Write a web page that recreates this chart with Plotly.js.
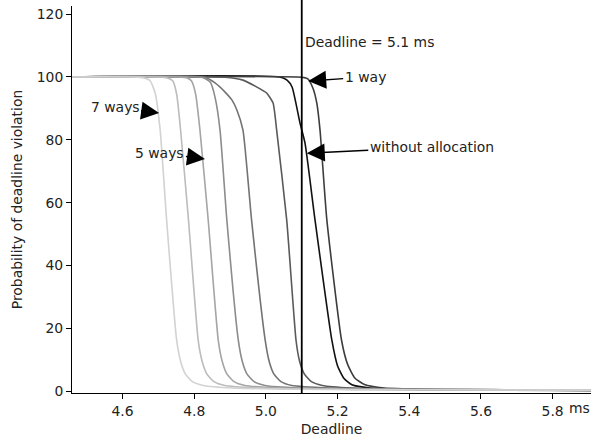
<!DOCTYPE html>
<html>
<head>
<meta charset="utf-8">
<script src="https://cdn.plot.ly/plotly-3.0.1.min.js"></script>
<style>html,body{margin:0;padding:0;background:#fff;}#chart{width:595px;height:437px;}</style>
</head>
<body>
<div id="chart"></div>
<script>
// Deadline (ms) / probability of deadline violation (%) for each configuration
const ways7X = [4.45, 4.655, 4.677, 4.691, 4.705, 4.723, 4.751, 4.762, 4.775, 4.795, 4.825, 4.908, 5.2, 5.95];
const ways7Y = [100, 99.8, 98.8, 94.9, 83.1, 54.5, 16.2, 9.5, 5.5, 3.0, 1.8, 1.0, 0.5, 0.3];
const ways6X = [4.45, 4.722, 4.740, 4.751, 4.762, 4.784, 4.811, 4.822, 4.835, 4.855, 4.885, 4.984, 5.3, 5.95];
const ways6Y = [100, 99.8, 98.8, 94.5, 83.1, 54.5, 16.2, 9.5, 5.5, 3.0, 1.8, 1.0, 0.5, 0.3];
const ways5X = [4.45, 4.778, 4.792, 4.804, 4.816, 4.839, 4.867, 4.878, 4.891, 4.911, 4.941, 5.039, 5.3, 5.95];
const ways5Y = [100, 99.8, 98.8, 94.5, 83.1, 54.5, 16.2, 9.5, 5.5, 3.0, 1.8, 1.0, 0.5, 0.3];
const ways4X = [4.45, 4.825, 4.845, 4.858, 4.872, 4.891, 4.923, 4.934, 4.947, 4.967, 4.997, 5.095, 5.4, 5.95];
const ways4Y = [100, 99.8, 98.3, 93.6, 83.1, 54.5, 16.2, 9.5, 5.5, 3.0, 1.8, 1.0, 0.5, 0.3];
const ways3X = [4.45, 4.830, 4.858, 4.886, 4.905, 4.919, 4.936, 4.960, 4.998, 5.009, 5.022, 5.042, 5.072, 5.179, 5.4, 5.95];
const ways3Y = [100, 99.9, 98.1, 95.2, 92.7, 89.5, 83.1, 54.5, 16.2, 9.5, 5.5, 3.0, 1.8, 1.0, 0.5, 0.3];
const ways2X = [4.45, 4.886, 4.936, 4.970, 5.002, 5.020, 5.030, 5.058, 5.084, 5.094, 5.107, 5.127, 5.157, 5.24, 5.5, 5.95];
const ways2Y = [100, 99.9, 99.0, 97.1, 94.9, 91.7, 83.1, 54.5, 16.2, 9.5, 5.5, 3.0, 1.8, 1.0, 0.5, 0.3];
const noAllocX = [4.45, 5.039, 5.059, 5.073, 5.095, 5.109, 5.137, 5.184, 5.200, 5.218, 5.240, 5.29, 5.5, 5.95];
const noAllocY = [100, 100, 99.0, 96.8, 85.4, 79.0, 54.5, 16.2, 8.0, 4.0, 2.0, 1.0, 0.4, 0.2];
const way1X = [4.45, 5.10, 5.117, 5.131, 5.142, 5.151, 5.170, 5.211, 5.228, 5.248, 5.275, 5.33, 5.5, 5.95];
const way1Y = [100, 99.9, 99.4, 96.5, 91.7, 83.1, 54.5, 16.2, 8.5, 4.2, 2.1, 1.0, 0.5, 0.2];

const deadline = 5.1;
const xTicks = [4.6, 4.8, 5.0, 5.2, 5.4, 5.6, 5.8];
const xTickText = ['4.6', '4.8', '5.0', '5.2', '5.4', '5.6', '5.8'];
const yTicks = [0, 20, 40, 60, 80, 100, 120];

const series = [
  {name: 'without allocation', x: noAllocX, y: noAllocY, color: '#111111'},
  {name: '1 way', x: way1X, y: way1Y, color: '#3d3d3d'},
  {name: '2 ways', x: ways2X, y: ways2Y, color: '#5a5a5a'},
  {name: '3 ways', x: ways3X, y: ways3Y, color: '#737373'},
  {name: '4 ways', x: ways4X, y: ways4Y, color: '#8c8c8c'},
  {name: '5 ways', x: ways5X, y: ways5Y, color: '#a5a5a5'},
  {name: '6 ways', x: ways6X, y: ways6Y, color: '#bcbcbc'},
  {name: '7 ways', x: ways7X, y: ways7Y, color: '#d2d2d2'}
];

const traces = series.map(s => ({
  type: 'scatter', mode: 'lines', name: s.name, x: s.x, y: s.y,
  line: {color: s.color, width: 1.6, shape: 'spline', smoothing: 0.5},
  hoverinfo: 'skip'
}));

const font = {family: 'DejaVu Sans, sans-serif', size: 13.9, color: '#222'};
const arrowCommon = {showarrow: true, arrowhead: 2, arrowsize: 2.4, arrowwidth: 1.5, arrowcolor: '#000',
  font: font, xref: 'x', yref: 'y', standoff: 0, startstandoff: 0};

const layout = {
  width: 595, height: 437,
  margin: {l: 72, r: 4, t: 6, b: 44},
  paper_bgcolor: '#fff', plot_bgcolor: '#fff',
  showlegend: false,
  font: font,
  xaxis: {
    range: [4.459, 5.907], tickvals: xTicks, ticktext: xTickText,
    showline: true, linecolor: '#000', linewidth: 1,
    ticks: 'outside', ticklen: 5, tickcolor: '#000', showgrid: false, zeroline: false,
    title: {text: 'Deadline', font: font, standoff: 8}
  },
  yaxis: {
    range: [-0.6, 122.6], tickvals: yTicks,
    showline: true, linecolor: '#000', linewidth: 1,
    ticks: 'outside', ticklen: 5, tickcolor: '#000', showgrid: false, zeroline: false,
    title: {text: 'Probability of deadline violation', font: font, standoff: 10}
  },
  shapes: [{type: 'line', xref: 'x', yref: 'paper', x0: deadline, x1: deadline, y0: 0, y1: 1.016,
    line: {color: '#000', width: 1.8}}],
  annotations: [
    Object.assign({}, arrowCommon, {x: 4.702, y: 88.5, text: '7 ways', ax: -44, ay: -6}),
    Object.assign({}, arrowCommon, {x: 4.830, y: 73.9, text: '5 ways', ax: -45, ay: -6}),
    Object.assign({}, arrowCommon, {x: 5.118, y: 98.7, text: '1 way', ax: 57, ay: -4}),
    Object.assign({}, arrowCommon, {x: 5.114, y: 75.7, text: 'without allocation', ax: 125, ay: -6}),
    {x: 5.104, y: 111.2, xref: 'x', yref: 'y', text: 'Deadline = 5.1 ms', showarrow: false,
      xanchor: 'left', yanchor: 'middle', font: font},
    {x: 5.876, y: -0.04, xref: 'x', yref: 'paper', text: 'ms', showarrow: false,
      xanchor: 'center', yanchor: 'middle', font: font}
  ]
};

Plotly.newPlot('chart', traces, layout, {displayModeBar: false, staticPlot: true});
</script>
</body>
</html>
